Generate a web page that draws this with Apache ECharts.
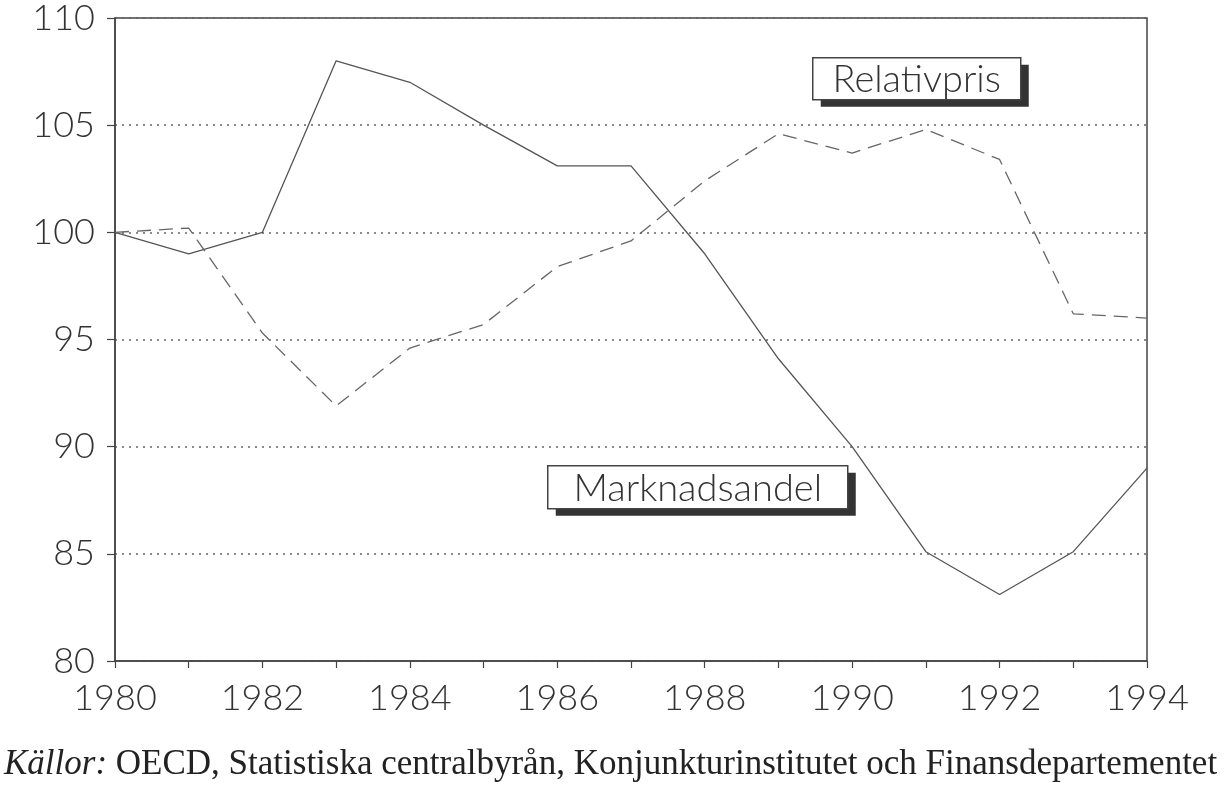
<!DOCTYPE html>
<html>
<head>
<meta charset="utf-8">
<script src="https://cdn.jsdelivr.net/npm/echarts@6/dist/echarts.min.js"></script>
<style>
html,body{margin:0;padding:0;background:#fff;}
#chart{width:1227px;height:795px;}
</style>
</head>
<body>
<div id="chart"></div>
<script>
const years = ['1980','1981','1982','1983','1984','1985','1986','1987','1988','1989','1990','1991','1992','1993','1994'];
const marknadsandel = [100, 99.0, 100, 108.0, 107.0, 105.0, 103.1, 103.1, 99.0, 94.1, 90.0, 85.1, 83.1, 85.1, 89.0];
const relativpris = [100, 100.2, 95.3, 91.9, 94.6, 95.7, 98.4, 99.6, 102.4, 104.6, 103.7, 104.8, 103.4, 96.2, 96.0];
const yTicks = { min: 80, max: 110, interval: 5 };
const seriesNames = ['Marknadsandel', 'Relativpris'];
const caption = 'OECD, Statistiska centralbyrån, Konjunkturinstitutet och Finansdepartementet';

const chart = echarts.init(document.getElementById('chart'));
const axisFont = { fontFamily: 'Lato', fontWeight: 300, fontSize: 36, color: '#333' };

function labelBox(x, y, w, h, text) {
  return {
    type: 'group',
    left: x, top: y,
    children: [
      { type: 'rect', shape: { x: 8, y: 7, width: w, height: h }, style: { fill: '#333' } },
      { type: 'rect', shape: { x: 0, y: 0, width: w, height: h }, style: { fill: '#fff', stroke: '#444', lineWidth: 1.5 } },
      { type: 'text', style: { x: w / 2, y: h / 2 + 1, text: text, fill: '#333', font: '300 38px Lato', align: 'center', verticalAlign: 'middle' } }
    ]
  };
}

chart.setOption({
  animation: false,
  backgroundColor: '#fff',
  grid: { left: 115, right: 80, top: 15, bottom: 134, show: true, borderColor: '#444', borderWidth: 1.5, backgroundColor: 'transparent' },
  xAxis: {
    type: 'category',
    data: years,
    boundaryGap: false,
    axisLine: { lineStyle: { color: '#444', width: 1.5 } },
    axisTick: { show: true, interval: 0, length: 7, lineStyle: { color: '#444', width: 1.2 } },
    axisLabel: Object.assign({ interval: 1, margin: 19 }, axisFont),
    splitLine: { show: false }
  },
  yAxis: {
    type: 'value',
    min: yTicks.min, max: yTicks.max, interval: yTicks.interval,
    axisLine: { show: true, lineStyle: { color: '#444', width: 1.5 } },
    axisTick: { show: true, length: 8, lineStyle: { color: '#444', width: 1.2 } },
    axisLabel: Object.assign({ margin: 20 }, axisFont),
    splitLine: { show: true, lineStyle: { color: '#666', width: 1.5, type: [2, 5] } }
  },
  series: [
    {
      name: seriesNames[0], type: 'line', data: marknadsandel,
      symbol: 'none', lineStyle: { color: '#555', width: 1.3, type: 'solid' }
    },
    {
      name: seriesNames[1], type: 'line', data: relativpris,
      symbol: 'none', lineStyle: { color: '#666', width: 1.3, type: [14, 8] }
    }
  ],
  graphic: [
    labelBox(812, 57, 208, 42, seriesNames[1]),
    labelBox(547, 465, 300, 43, seriesNames[0]),
    {
      type: 'text', left: 4, top: 747,
      style: {
        text: '{i|Källor:} ' + caption,
        rich: {
          i: { fontFamily: 'Liberation Serif', fontStyle: 'italic', fontSize: 35, fill: '#222' }
        },
        fontFamily: 'Liberation Serif', fontSize: 35, fill: '#222'
      }
    }
  ]
});
</script>
</body>
</html>
